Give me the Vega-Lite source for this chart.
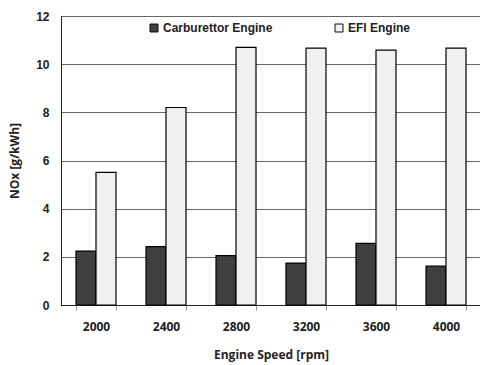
{
  "$schema": "https://vega.github.io/schema/vega-lite/v6.json",
  "width": 420,
  "height": 289,
  "autosize": "none",
  "padding": {"left": 61, "top": 16, "right": 0, "bottom": 60},
  "background": "white",
  "data": {
    "values": [
      {"speed": "2000", "engine": "Carburettor Engine", "nox": 2.24},
      {"speed": "2000", "engine": "EFI Engine", "nox": 5.51},
      {"speed": "2400", "engine": "Carburettor Engine", "nox": 2.42},
      {"speed": "2400", "engine": "EFI Engine", "nox": 8.2},
      {"speed": "2800", "engine": "Carburettor Engine", "nox": 2.05},
      {"speed": "2800", "engine": "EFI Engine", "nox": 10.7},
      {"speed": "3200", "engine": "Carburettor Engine", "nox": 1.74},
      {"speed": "3200", "engine": "EFI Engine", "nox": 10.67},
      {"speed": "3600", "engine": "Carburettor Engine", "nox": 2.56},
      {"speed": "3600", "engine": "EFI Engine", "nox": 10.58},
      {"speed": "4000", "engine": "Carburettor Engine", "nox": 1.62},
      {"speed": "4000", "engine": "EFI Engine", "nox": 10.67}
    ]
  },
  "config": {
    "view": {"stroke": "#222", "strokeWidth": 1},
    "font": "Liberation Sans"
  },
  "mark": {"type": "bar", "stroke": "#000", "strokeWidth": 1.2, "strokeOpacity": 1},
  "encoding": {
    "x": {
      "field": "speed",
      "type": "nominal",
      "sort": null,
      "scale": {"paddingInner": 0.4286, "paddingOuter": 0.2143},
      "axis": {
        "title": "Engine Speed [rpm]",
        "titleFont": "Open Sans",
        "titleFontSize": 12,
        "titleFontWeight": "bold",
        "titleColor": "#222",
        "titlePadding": 17,
        "labelAngle": 0,
        "labelFont": "Open Sans",
        "labelFontSize": 12,
        "labelFontWeight": "bold",
        "labelColor": "#222",
        "labelPadding": 11,
        "tickBand": "extent",
        "tickSize": 5,
        "tickColor": "#999",
        "domainColor": "#222",
        "grid": false
      }
    },
    "xOffset": {"field": "engine", "type": "nominal", "scale": {"paddingInner": 0, "paddingOuter": 0}},
    "y": {
      "field": "nox",
      "type": "quantitative",
      "scale": {"domain": [0, 12], "nice": false},
      "axis": {
        "title": "NOx [g/kWh]",
        "titleFont": "Open Sans",
        "titleFontSize": 12,
        "titleFontWeight": "bold",
        "titleColor": "#222",
        "titlePadding": 14,
        "values": [0, 2, 4, 6, 8, 10, 12],
        "labelFont": "Liberation Sans",
        "labelFontSize": 12,
        "labelFontWeight": "bold",
        "labelColor": "#222",
        "labelPadding": 12,
        "ticks": false,
        "domainColor": "#222",
        "grid": true,
        "gridColor": "#666",
        "gridWidth": 1
      }
    },
    "fill": {
      "field": "engine",
      "type": "nominal",
      "scale": {"domain": ["Carburettor Engine", "EFI Engine"], "range": ["#3f3f3f", "#f0f0f0"]},
      "legend": {
        "title": null,
        "orient": "none",
        "legendX": 87,
        "legendY": 6,
        "direction": "horizontal",
        "columnPadding": 60,
        "symbolType": "square",
        "symbolSize": 64,
        "symbolStrokeColor": "#111",
        "symbolStrokeWidth": 1,
        "labelFont": "Liberation Sans",
        "labelFontSize": 12,
        "labelFontWeight": "bold",
        "labelColor": "#222",
        "labelOffset": 3,
        "fillColor": "white"
      }
    }
  }
}
